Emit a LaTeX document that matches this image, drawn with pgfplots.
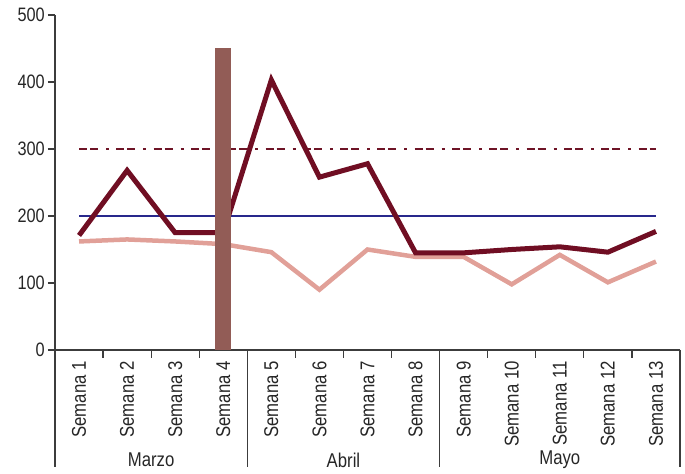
\documentclass[border=0pt]{standalone}
\usepackage{fontspec}
\setmainfont{Liberation Sans}[FakeStretch=0.84]
\usepackage{pgfplots}
\pgfplotsset{compat=1.18}

\definecolor{darkline}{RGB}{112,14,35}
\definecolor{dashline}{RGB}{110,20,38}
\definecolor{lightline}{RGB}{225,160,152}
\definecolor{blueline}{RGB}{40,40,140}
\definecolor{barc}{RGB}{146,92,86}
\definecolor{axisc}{RGB}{60,60,60}

\begin{document}
\begin{tikzpicture}
\begin{axis}[
  scale only axis,
  width=625bp, height=335bp,
  xmin=0.5, xmax=13.5,
  ymin=0, ymax=500,
  axis x line=bottom, axis y line=left,
  axis line style={-, draw=axisc, line width=1.2bp},
  ytick={0,100,...,500},
  xtick={1,...,13},
  xticklabels={Semana 1,Semana 2,Semana 3,Semana 4,Semana 5,Semana 6,Semana 7,Semana 8,Semana 9,Semana 10,Semana 11,Semana 12,Semana 13},
  xtick style={draw=none},
  ytick style={draw=axisc, line width=1.2bp},
  tick align=outside,
  major tick length=7bp,
  xticklabel style={rotate=90, anchor=east, font=\fontsize{20}{22}\selectfont, text=black!85, inner sep=4bp},
  yticklabel style={font=\fontsize{19.5}{22}\selectfont, text=black!85, inner sep=3bp},
  /pgf/number format/assume math mode=true,
  clip=false,
]
% reference lines
\addplot[blueline, line width=1.2bp] coordinates {(1,200) (13,200)};
\addplot[dashline, line width=2.8bp, dash pattern=on 8bp off 3bp on 8bp off 8bp on 3bp off 7.3bp] coordinates {(1,300) (13,300)};
% series
\addplot[lightline, line width=4.5bp, line join=miter] coordinates {
 (1,162) (2,165) (3,162) (4,158) (5,146) (6,90) (7,150) (8,139) (9,139) (10,98) (11,142) (12,101) (13,132)};
\addplot[darkline, line width=5bp, line join=miter] coordinates {
 (1,171) (2,268) (3,175) (4,175) (5,403) (6,258) (7,278) (8,145) (9,145) (10,150) (11,154) (12,146) (13,177)};
% bar
\addplot[ybar, bar width=16bp, fill=barc, draw=none] coordinates {(4,450)};

% separators
\pgfplotsinvokeforeach{1.5,2.5,3.5,5.5,6.5,7.5,9.5,10.5,11.5,12.5}{
  \draw[axisc, line width=1.2bp] (axis cs:#1,0) -- ([yshift=-8bp]axis cs:#1,0);
}
\pgfplotsinvokeforeach{0.5,4.5,8.5,13.5}{
  \draw[axisc, line width=1.2bp] (axis cs:#1,0) -- ([yshift=-117bp]axis cs:#1,0);
}
\node[font=\fontsize{20}{22}\selectfont, text=black!85] at ([yshift=-110bp]axis cs:2.5,0) {Marzo};
\node[font=\fontsize{20}{22}\selectfont, text=black!85] at ([yshift=-110bp]axis cs:6.5,0) {Abril};
\node[font=\fontsize{20}{22}\selectfont, text=black!85] at ([yshift=-110bp]axis cs:11,0) {Mayo};

\coordinate (sw) at (rel axis cs:0,0);
\coordinate (ne) at (rel axis cs:1,1);
\end{axis}
\pgfresetboundingbox
\path ([xshift=-55bp,yshift=-124bp]sw) rectangle ([xshift=5bp,yshift=15bp]ne);
\end{tikzpicture}
\end{document}
